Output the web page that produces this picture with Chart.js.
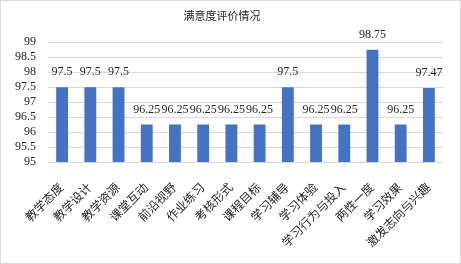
<!DOCTYPE html>
<html>
<head>
<meta charset="utf-8">
<script src="https://cdn.jsdelivr.net/npm/chart.js@4.4.1/dist/chart.umd.min.js"></script>
<style>
    html, body { margin: 0; padding: 0; background: #fff; }
    #wrap { width: 459px; height: 262px; border: 1px solid #d9d9d9; }
</style>
</head>
<body>
<div id="wrap"><canvas id="chart" width="459" height="262"></canvas></div>
<script>
// ---- data ----
const categories = ["教学态度", "教学设计", "教学资源", "课堂互动", "前沿视野", "作业练习", "考核形式",
    "课程目标", "学习辅导", "学习体验", "学习行为与投入", "两性一度", "学习效果", "激发志向与兴趣"];
const scores = [97.5, 97.5, 97.5, 96.25, 96.25, 96.25, 96.25, 96.25, 97.5, 96.25, 96.25, 98.75, 96.25, 97.47];
const yTicks = [95, 95.5, 96, 96.5, 97, 97.5, 98, 98.5, 99];
const chartTitle = "满意度评价情况";

const FONT = "'Liberation Serif', 'Noto Sans CJK SC'";
const TEXT = "#262626";

// value labels above each bar
const barLabels = {
    id: "barLabels",
    afterDatasetsDraw(chart) {
        const ctx = chart.ctx;
        const meta = chart.getDatasetMeta(0);
        ctx.save();
        ctx.font = "12px " + FONT;
        ctx.fillStyle = TEXT;
        ctx.textAlign = "center";
        ctx.textBaseline = "middle";
        meta.data.forEach((bar, i) => {
            ctx.fillText(String(scores[i]), bar.x, bar.y - 15);
        });
        ctx.restore();
    }
};

new Chart(document.getElementById("chart").getContext("2d"), {
    type: "bar",
    data: {
        labels: categories,
        datasets: [{
            data: scores,
            backgroundColor: "#4472c4",
            borderWidth: 0,
            categoryPercentage: 1,
            barPercentage: 0.42
        }]
    },
    options: {
        responsive: false,
        animation: false,
        layout: { padding: { top: 0, right: 17, bottom: 0, left: 0 } },
        plugins: {
            legend: { display: false },
            tooltip: { enabled: false },
            title: {
                display: true,
                text: chartTitle,
                color: TEXT,
                font: { family: FONT, size: 11, weight: "normal" },
                padding: { top: 10, bottom: 18 }
            }
        },
        scales: {
            x: {
                grid: { display: false },
                border: { display: false },
                ticks: {
                    autoSkip: false,
                    maxRotation: 45,
                    minRotation: 45,
                    padding: 11,
                    color: TEXT,
                    font: { family: FONT, size: 12 }
                },
                afterFit(scale) { scale.height = 101; }
            },
            y: {
                min: 95,
                max: 99,
                afterBuildTicks(scale) { scale.ticks = yTicks.map(v => ({ value: v })); },
                grid: { color: "#d9d9d9", drawTicks: false },
                border: { display: false },
                ticks: {
                    autoSkip: false,
                    padding: 12,
                    color: TEXT,
                    font: { family: FONT, size: 12 },
                    callback: v => String(v)
                },
                afterFit(scale) { scale.width = 47; }
            }
        }
    },
    plugins: [barLabels]
});
</script>
</body>
</html>
